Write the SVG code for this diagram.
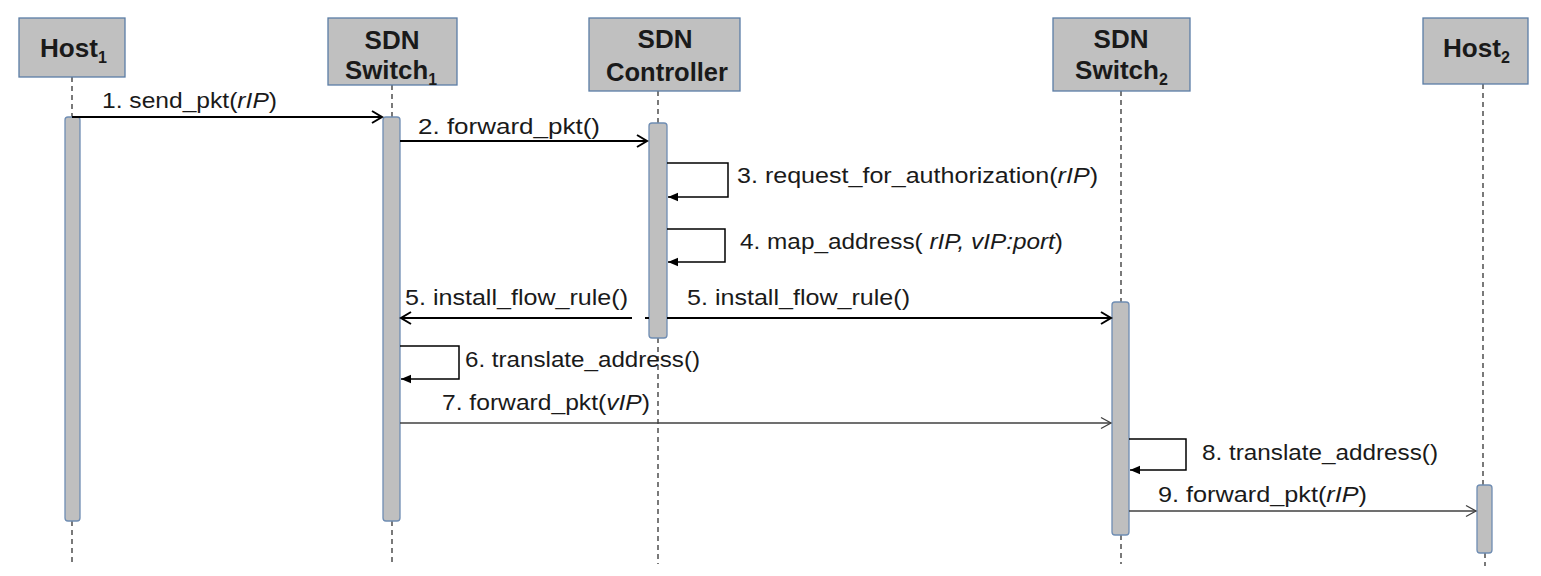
<svg xmlns="http://www.w3.org/2000/svg" width="1541" height="576" viewBox="0 0 1541 576">
<style>
.box{fill:#c0c0c0;stroke:#5b7da6;stroke-width:1.3}
.act{fill:#bfbfbf;stroke:#6f8db3;stroke-width:1.3}
.life{stroke:#333;stroke-width:1.3;stroke-dasharray:5,4;fill:none}
.hd{font-family:"Liberation Sans",Arial,sans-serif;font-weight:bold;font-size:26px;fill:#1a1a1a}
.sub{font-size:16px}
.lbl{font-family:"Liberation Sans",Arial,sans-serif;font-size:22px;fill:#1a1a1a}
.it{font-style:italic}
.thick{stroke:#000;stroke-width:2;fill:none}
.thin{stroke:#404040;stroke-width:1.3;fill:none}
.loop{stroke:#000;stroke-width:1.5;fill:none}
</style>
<defs>
<marker id="open" markerWidth="14" markerHeight="14" refX="12" refY="7" orient="auto" markerUnits="userSpaceOnUse"><path d="M2,1 L12,7 L2,13" fill="none" stroke="#000" stroke-width="2"/></marker>
<marker id="openThin" markerWidth="14" markerHeight="14" refX="12" refY="7" orient="auto" markerUnits="userSpaceOnUse"><path d="M2,1.5 L12,7 L2,12.5" fill="none" stroke="#404040" stroke-width="1.3"/></marker>
<marker id="solid" markerWidth="11" markerHeight="10" refX="10" refY="5" orient="auto" markerUnits="userSpaceOnUse"><path d="M0,0.8 L10,5 L0,9.2 Z" fill="#000"/></marker>
</defs>

<g id="lifelines">
<line class="life" x1="72" y1="77" x2="72" y2="117"/>
<line class="life" x1="72" y1="521" x2="72" y2="564"/>
<line class="life" x1="392" y1="85" x2="392" y2="117"/>
<line class="life" x1="392" y1="521" x2="392" y2="564"/>
<line class="life" x1="658" y1="91" x2="658" y2="123"/>
<line class="life" x1="658" y1="338" x2="658" y2="564"/>
<line class="life" x1="1121" y1="91" x2="1121" y2="302"/>
<line class="life" x1="1121" y1="535" x2="1121" y2="564"/>
<line class="life" x1="1483" y1="84" x2="1483" y2="485"/>
<line class="life" x1="1485" y1="553" x2="1485" y2="566"/>
</g>

<g id="host1">
<rect class="box" x="19" y="18" width="106" height="59"/>
<text class="hd" x="40" y="57" textLength="67" lengthAdjust="spacingAndGlyphs">Host<tspan class="sub" dy="6">1</tspan></text>
<rect class="act" x="65" y="117" width="15" height="404" rx="3"/>
</g>

<g id="switch1">
<rect class="box" x="328" y="18" width="129" height="67"/>
<text class="hd" x="392" y="49" text-anchor="middle">SDN</text>
<text class="hd" x="345" y="79" textLength="92" lengthAdjust="spacingAndGlyphs">Switch<tspan class="sub" dy="6">1</tspan></text>
<rect class="act" x="383" y="117" width="17" height="404" rx="3"/>
</g>

<g id="controller">
<rect class="box" x="589" y="18" width="151" height="73"/>
<text class="hd" x="665" y="48" text-anchor="middle">SDN</text>
<text class="hd" x="606" y="81" textLength="122" lengthAdjust="spacingAndGlyphs">Controller</text>
<rect class="act" x="649" y="123" width="18" height="215" rx="3"/>
</g>

<g id="switch2">
<rect class="box" x="1053" y="18" width="137" height="73"/>
<text class="hd" x="1121" y="48" text-anchor="middle">SDN</text>
<text class="hd" x="1075" y="79" textLength="93" lengthAdjust="spacingAndGlyphs">Switch<tspan class="sub" dy="6">2</tspan></text>
<rect class="act" x="1112" y="302" width="17" height="233" rx="3"/>
</g>

<g id="host2">
<rect class="box" x="1423" y="18" width="105" height="66"/>
<text class="hd" x="1443" y="57" textLength="67" lengthAdjust="spacingAndGlyphs">Host<tspan class="sub" dy="6">2</tspan></text>
<rect class="act" x="1477" y="485" width="15" height="68" rx="3"/>
</g>

<g id="connectors">
<line class="thick" x1="72" y1="117" x2="382" y2="117" marker-end="url(#open)"/>
<line class="thick" x1="400" y1="141" x2="647" y2="141" marker-end="url(#open)"/>
<path class="loop" d="M667,163 H728 V197 H668" marker-end="url(#solid)"/>
<path class="loop" d="M667,229 H725 V262 H668" marker-end="url(#solid)"/>
<line class="thick" x1="632" y1="318" x2="401" y2="318" marker-end="url(#open)"/>
<line class="thick" x1="645" y1="318" x2="649" y2="318"/>
<line class="thick" x1="667" y1="318" x2="1111" y2="318" marker-end="url(#open)"/>
<path class="loop" d="M400,346 H459 V379 H401" marker-end="url(#solid)"/>
<line class="thin" x1="400" y1="423" x2="1111" y2="423" marker-end="url(#openThin)"/>
<path class="loop" d="M1129,439 H1186 V470 H1130" marker-end="url(#solid)"/>
<line class="thin" x1="1129" y1="511" x2="1476" y2="511" marker-end="url(#openThin)"/>
</g>

<g id="labels">
<text class="lbl" x="102" y="108" textLength="175" lengthAdjust="spacingAndGlyphs">1. send_pkt(<tspan class="it">rIP</tspan>)</text>
<text class="lbl" x="418" y="134" textLength="182" lengthAdjust="spacingAndGlyphs">2. forward_pkt()</text>
<text class="lbl" x="737" y="183" textLength="361" lengthAdjust="spacingAndGlyphs">3. request_for_authorization(<tspan class="it">rIP</tspan>)</text>
<text class="lbl" x="740" y="249" textLength="323" lengthAdjust="spacingAndGlyphs">4. map_address(  <tspan class="it">rIP, vIP:port</tspan>)</text>
<text class="lbl" x="405" y="305" textLength="223" lengthAdjust="spacingAndGlyphs">5. install_flow_rule()</text>
<text class="lbl" x="687" y="305" textLength="223" lengthAdjust="spacingAndGlyphs">5. install_flow_rule()</text>
<text class="lbl" x="465" y="367" textLength="235" lengthAdjust="spacingAndGlyphs">6. translate_address()</text>
<text class="lbl" x="442" y="410" textLength="208" lengthAdjust="spacingAndGlyphs">7. forward_pkt(<tspan class="it">vIP</tspan>)</text>
<text class="lbl" x="1202" y="460" textLength="236" lengthAdjust="spacingAndGlyphs">8. translate_address()</text>
<text class="lbl" x="1158" y="502" textLength="209" lengthAdjust="spacingAndGlyphs">9. forward_pkt(<tspan class="it">rIP</tspan>)</text>
</g>
</svg>
